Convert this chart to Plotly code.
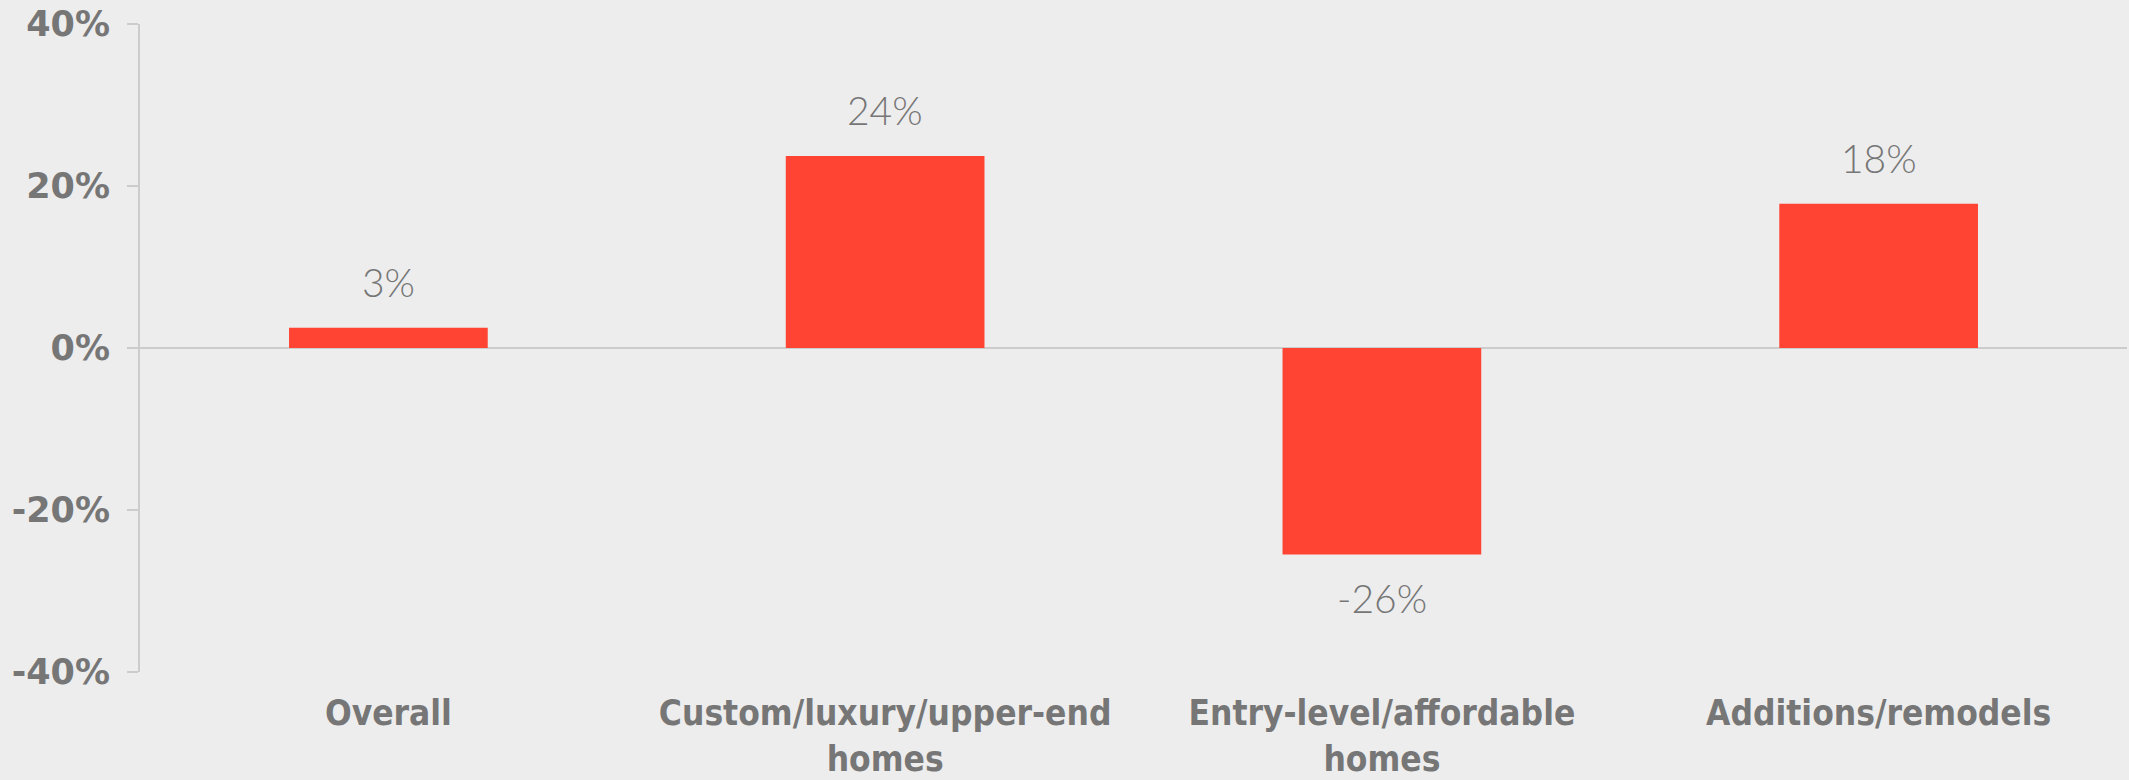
import plotly.graph_objects as go

categories = ["Overall", "Custom/luxury/upper-end<br>homes", "Entry-level/affordable<br>homes", "Additions/remodels"]
values = [2.5, 23.7, -25.5, 17.8]
labels = ["3%", "24%", "-26%", "18%"]
tick_vals = [-40, -20, 0, 20, 40]
tick_text = ["-40%", "-20%", "0%", "20%", "40%"]

GRAY = "#767676"
AXIS = "#cccccc"
BG = "#ededed"

fig = go.Figure(go.Bar(
    x=categories, y=values,
    marker=dict(color="#FF4433", line=dict(width=0)),
    hoverinfo="skip",
))

for c, v, t in zip(categories, values, labels):
    fig.add_annotation(
        x=c, y=v, text=t, showarrow=False,
        yanchor="bottom" if v >= 0 else "top",
        yshift=21 if v >= 0 else -18,
        font=dict(family="Lato", size=39, color=GRAY, weight=300),
    )

fig.update_layout(
    width=2129, height=780,
    paper_bgcolor=BG, plot_bgcolor=BG,
    margin=dict(l=140, r=2, t=24, b=108),
    bargap=0.6,
    showlegend=False,
)
fig.update_xaxes(
    range=[-0.5, 3.5], automargin=False,
    showline=False, showgrid=False, zeroline=False,
    ticks="", ticklabelstandoff=17, ticklabeloverflow="allow",
    tickfont=dict(family="DejaVu Sans Condensed", size=35, color=GRAY, weight="bold"),
)
fig.update_yaxes(
    range=[-40, 40], automargin=False,
    tickvals=tick_vals, ticktext=tick_text,
    showline=True, linecolor=AXIS, linewidth=2,
    ticks="outside", ticklen=11, tickcolor=AXIS, tickwidth=2,
    showgrid=False,
    zeroline=True, zerolinecolor=AXIS, zerolinewidth=2,
    ticklabelstandoff=10, ticklabeloverflow="allow",
    tickfont=dict(family="DejaVu Sans", size=35, color=GRAY, weight="bold"),
)

fig.write_html(
    "out.html",
    config={"displayModeBar": False},
    post_script="document.body.style.margin='0';document.body.style.background='#ededed';",
)
